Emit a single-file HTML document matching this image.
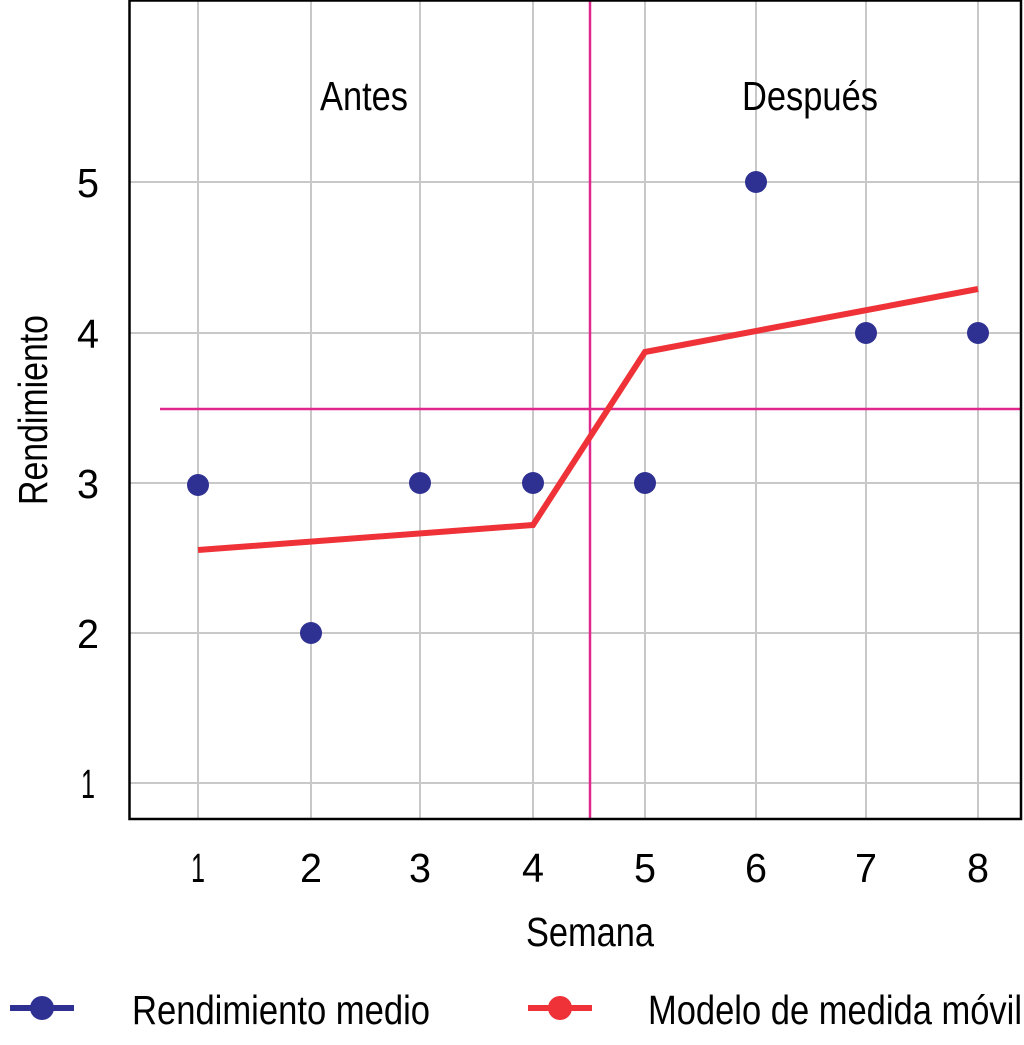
<!DOCTYPE html>
<html><head><meta charset="utf-8"><style>html,body{margin:0;padding:0;background:#fff}</style></head>
<body>
<svg width="1024" height="1040" viewBox="0 0 1024 1040" xmlns="http://www.w3.org/2000/svg" font-family="'Liberation Sans', sans-serif" font-size="41" fill="#000">
<g stroke="#c8c8c8" stroke-width="2">
<line x1="198" y1="0" x2="198" y2="819"/><line x1="311" y1="0" x2="311" y2="819"/>
<line x1="420" y1="0" x2="420" y2="819"/><line x1="533" y1="0" x2="533" y2="819"/>
<line x1="645" y1="0" x2="645" y2="819"/><line x1="756" y1="0" x2="756" y2="819"/>
<line x1="866" y1="0" x2="866" y2="819"/><line x1="978" y1="0" x2="978" y2="819"/>
<line x1="129" y1="182" x2="1021" y2="182"/><line x1="129" y1="333" x2="1021" y2="333"/>
<line x1="129" y1="483" x2="1021" y2="483"/><line x1="129" y1="633" x2="1021" y2="633"/>
<line x1="129" y1="783" x2="1021" y2="783"/>
</g>
<g stroke="#e0288c" stroke-width="2.5">
<line x1="590" y1="0" x2="590" y2="819"/>
<line x1="160" y1="409" x2="1021" y2="409"/>
</g>
<rect x="129.5" y="0.5" width="891.5" height="818.5" fill="none" stroke="#000" stroke-width="2.5"/>
<polyline points="198,550 533,525 645,352 978,289" fill="none" stroke="#ee3238" stroke-width="6"/>
<g fill="#2e3192">
<circle cx="198" cy="485" r="11"/><circle cx="311" cy="633" r="11"/>
<circle cx="420" cy="483" r="11"/><circle cx="533" cy="483" r="11"/>
<circle cx="645" cy="483" r="11"/><circle cx="756" cy="182" r="11"/>
<circle cx="866" cy="333" r="11"/><circle cx="978" cy="333" r="11"/>
</g>
<text x="364" y="110" text-anchor="middle" textLength="88" lengthAdjust="spacingAndGlyphs">Antes</text>
<text x="810" y="110" text-anchor="middle" textLength="136" lengthAdjust="spacingAndGlyphs">Después</text>
<g text-anchor="middle" lengthAdjust="spacingAndGlyphs">
<text x="88" y="197" textLength="22" lengthAdjust="spacingAndGlyphs">5</text>
<text x="88" y="348" textLength="22" lengthAdjust="spacingAndGlyphs">4</text>
<text x="88" y="498" textLength="22" lengthAdjust="spacingAndGlyphs">3</text>
<text x="88" y="648" textLength="22" lengthAdjust="spacingAndGlyphs">2</text>
<text x="88" y="798" textLength="14" lengthAdjust="spacingAndGlyphs">1</text>
<text x="198" y="882" textLength="14" lengthAdjust="spacingAndGlyphs">1</text>
<text x="311" y="882" textLength="22" lengthAdjust="spacingAndGlyphs">2</text>
<text x="420" y="882" textLength="22" lengthAdjust="spacingAndGlyphs">3</text>
<text x="533" y="882" textLength="22" lengthAdjust="spacingAndGlyphs">4</text>
<text x="645" y="882" textLength="22" lengthAdjust="spacingAndGlyphs">5</text>
<text x="756" y="882" textLength="22" lengthAdjust="spacingAndGlyphs">6</text>
<text x="866" y="882" textLength="22" lengthAdjust="spacingAndGlyphs">7</text>
<text x="978" y="882" textLength="22" lengthAdjust="spacingAndGlyphs">8</text>
</g>
<text x="590" y="946" text-anchor="middle" textLength="128" lengthAdjust="spacingAndGlyphs">Semana</text>
<text transform="translate(47,410) rotate(-90)" text-anchor="middle" textLength="190" lengthAdjust="spacingAndGlyphs">Rendimiento</text>
<line x1="10" y1="1008" x2="74" y2="1008" stroke="#2e3192" stroke-width="6"/>
<circle cx="42" cy="1008" r="12" fill="#2e3192"/>
<text x="132" y="1024" textLength="298" lengthAdjust="spacingAndGlyphs">Rendimiento medio</text>
<line x1="528" y1="1008" x2="592" y2="1008" stroke="#ee3238" stroke-width="6"/>
<circle cx="560" cy="1008" r="12" fill="#ee3238"/>
<text x="648" y="1024" textLength="374" lengthAdjust="spacingAndGlyphs">Modelo de medida móvil</text>
</svg>
</body></html>
